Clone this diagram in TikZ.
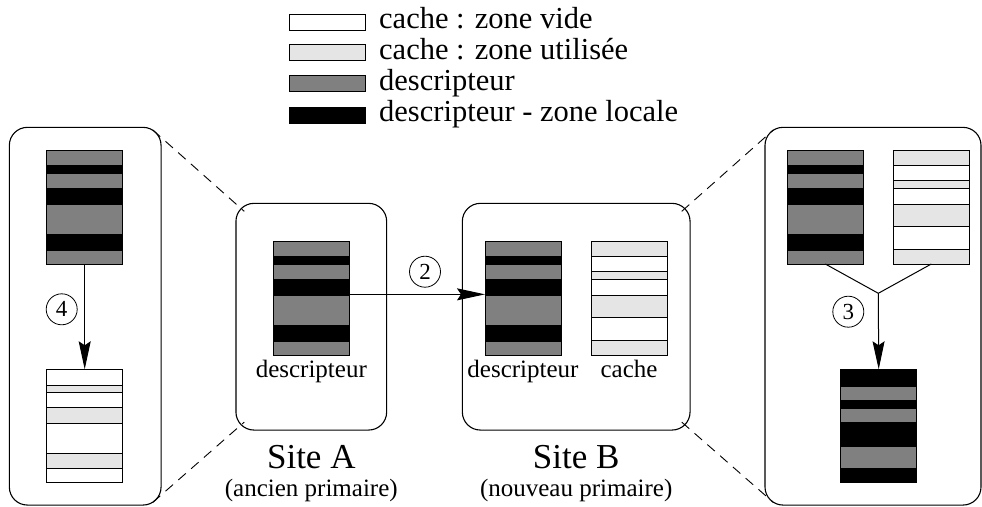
\documentclass[tikz,border=0pt]{standalone}
\usepackage{fontspec}
\setmainfont{Liberation Serif}
\usetikzlibrary{arrows.meta,calc,positioning}
\definecolor{descgray}{gray}{0.5}
\definecolor{usedgray}{gray}{0.9}
\tikzset{
  site/.style={draw, rounded corners=18pt, line width=1.1pt, inner sep=0, outer sep=0},
  barbox/.style={draw, line width=1pt, minimum width=76pt, minimum height=113.3pt, inner sep=0, outer sep=0},
  legbox/.style={draw, line width=0.9pt, minimum width=76pt, minimum height=16pt, inner sep=0, outer sep=0},
  stepnum/.style={circle, draw, line width=0.8pt, minimum size=31pt, inner sep=0, font=\fontsize{23}{23}\selectfont},
  lbl/.style={font=\fontsize{25}{25}\selectfont, inner sep=0, anchor=base},
  sitename/.style={font=\fontsize{35}{35}\selectfont, inner sep=0, anchor=base},
  leg/.style={font=\fontsize{30.5}{30.5}\selectfont, inner sep=0, anchor=base west},
  zoomline/.style={dash pattern=on 10pt off 7pt, line width=0.9pt, shorten <=-4pt, shorten >=-4pt},
  flow/.style={line width=1pt, -{Stealth[length=28pt,width=12pt,inset=4pt]}},
}
% bar: name, x, y (top left), base colour, stripe colour, stripes
\newcommand{\stripebar}[6]{
  \node[barbox, fill=#4] (#1) at (#2+38, #3+56.65) {};
  \foreach \ya/\yb in {#6}
    \draw[fill=#5, line width=0.6pt] (#2, #3+\ya) rectangle (#2+76, #3+\yb);
  \draw[line width=1pt] (#1.north west) rectangle (#1.south east);
}

\begin{document}
\begin{tikzpicture}[x=1pt, y=-1pt]
\useasboundingbox (0,0) rectangle (982,506);

% legend
\node[legbox, fill=white] (legvide) at (327.2,22.5) {};
\node[legbox, fill=usedgray] (legutil) at (327.2,52.5) {};
\node[legbox, fill=descgray] (legdesc) at (327.2,83.3) {};
\node[legbox, fill=black] (legloc) at (327.2,115) {};
\node[leg] (legvidetxt) at (379,28.5) {cache : zone vide};
\node[leg] (legutiltxt) at (379,59) {cache : zone utilisée};
\node[leg] (legdesctxt) at (379,90) {descripteur};
\node[leg] (legloctxt) at (379,121.5) {descripteur - zone locale};

% sites and zooms
\node[site, minimum width=151.7pt, minimum height=377.7pt] (lp) at (85.2,316.2) {};
\node[site, minimum width=150.7pt, minimum height=226.7pt] (siteA) at (311.3,316.7) {};
\node[site, minimum width=227.7pt, minimum height=226.7pt] (siteB) at (576.2,316.7) {};
\node[site, minimum width=216pt, minimum height=377.7pt] (rp) at (873,316.2) {};

\draw[zoomline] ($(lp.north east)+(-5.3,5.3)$) -- ($(siteA.north west)+(5.3,5.3)$);
\draw[zoomline] ($(lp.south east)+(-5.3,-5.3)$) -- ($(siteA.south west)+(5.3,-5.3)$);
\draw[zoomline] ($(siteB.north east)+(-5.3,5.3)$) -- ($(rp.north west)+(5.3,5.3)$);
\draw[zoomline] ($(siteB.south east)+(-5.3,-5.3)$) -- ($(rp.south west)+(5.3,-5.3)$);

% bars
\stripebar{lpdesc}{46.7}{150.7}{descgray}{black}{15/23,37.5/53.3,83.3/99.3}
\stripebar{lpcache}{46.7}{369.3}{white}{usedgray}{15.7/23.4,38/54,84/99}
\stripebar{adesc}{273.3}{241.7}{descgray}{black}{15/23,37.5/53.3,83.3/99.3}
\stripebar{bdesc}{485}{241.7}{descgray}{black}{15/23,37.5/53.3,83.3/99.3}
\stripebar{bcache}{591}{241.7}{white}{usedgray}{0/15,30/37.6,53.3/75.6,98.3/113.3}
\stripebar{rdesc}{787.3}{150.7}{descgray}{black}{15/23,37.5/53.3,83.3/99.3}
\stripebar{rcache}{893.3}{150.7}{white}{usedgray}{0/15,30/37.6,53.3/75.6,98.3/113.3}
\stripebar{rres}{840.7}{369.3}{black}{descgray}{16.7/30.7,39/53.3,76.7/99}

% labels
\node[lbl] (adesclbl) at (311.3,377.5) {descripteur};
\node[lbl] (bdesclbl) at (523,377.5) {descripteur};
\node[lbl] (bcachelbl) at (629,377.5) {cache};
\node[sitename] (siteAname) at (311.3,468.3) {Site A};
\node[lbl] (siteAsub) at (311.3,496) {(ancien primaire)};
\node[sitename] (siteBname) at (576.2,468.3) {Site B};
\node[lbl] (siteBsub) at (576.2,496) {(nouveau primaire)};

% steps
\draw[flow] ([yshift=4pt]adesc.east) -- ([yshift=4pt]bdesc.west);
\node[stepnum] (n2) at (425,271.7) {2};

\coordinate (merge) at (878.3,293.3);
\draw[line width=1pt] (rdesc.south) -- (merge) -- (rcache.south);
\draw[flow] (merge) -- (rres.north);
\node[stepnum] (n3) at (848.3,311.7) {3};

\draw[flow] (lpdesc.south) -- (lpcache.north);
\node[stepnum] (n4) at (61.7,309.3) {4};

\end{tikzpicture}
\end{document}
